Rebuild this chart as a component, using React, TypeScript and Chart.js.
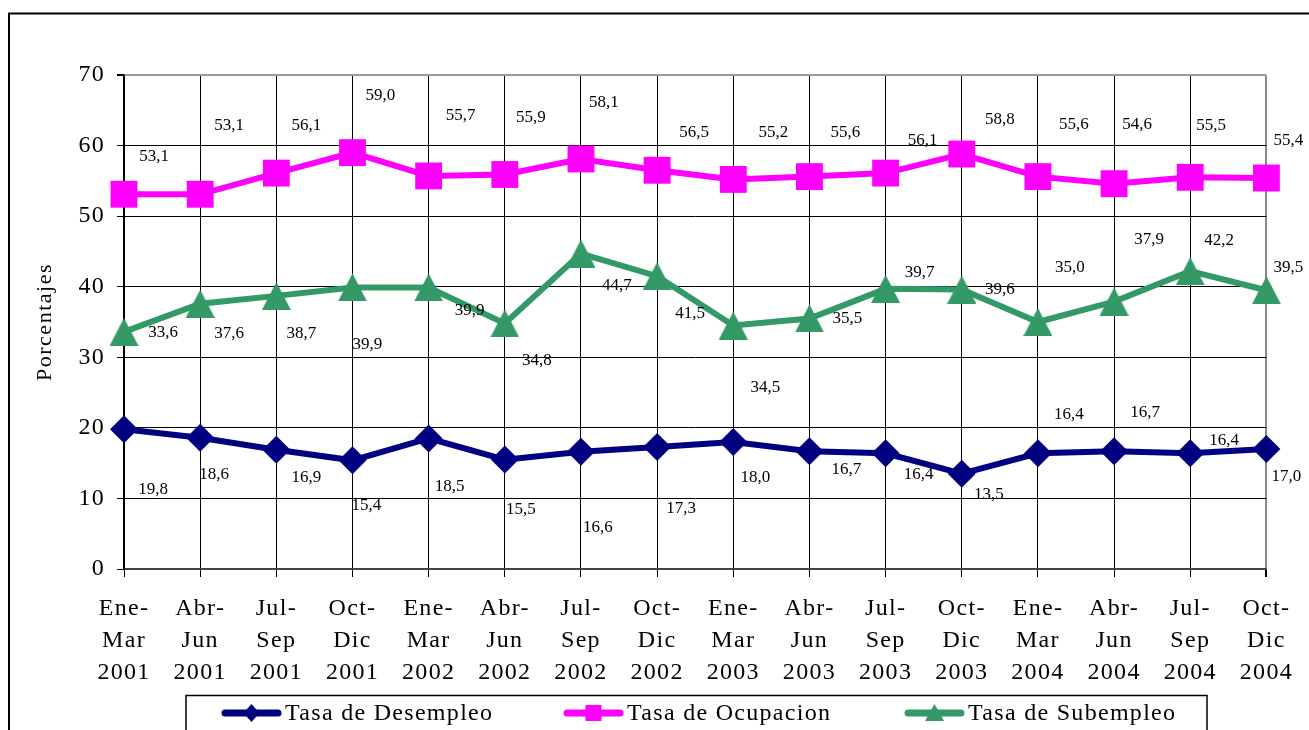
import React, { useEffect, useRef } from "react";
import { Chart, registerables } from "chart.js";

Chart.register(...registerables);

// ---------- data ----------
const categories: string[][] = [
  ["Ene-", "Mar", "2001"], ["Abr-", "Jun", "2001"], ["Jul-", "Sep", "2001"], ["Oct-", "Dic", "2001"],
  ["Ene-", "Mar", "2002"], ["Abr-", "Jun", "2002"], ["Jul-", "Sep", "2002"], ["Oct-", "Dic", "2002"],
  ["Ene-", "Mar", "2003"], ["Abr-", "Jun", "2003"], ["Jul-", "Sep", "2003"], ["Oct-", "Dic", "2003"],
  ["Ene-", "Mar", "2004"], ["Abr-", "Jun", "2004"], ["Jul-", "Sep", "2004"], ["Oct-", "Dic", "2004"],
];

const desempleo = [19.8, 18.6, 16.9, 15.4, 18.5, 15.5, 16.6, 17.3, 18.0, 16.7, 16.4, 13.5, 16.4, 16.7, 16.4, 17.0];
const ocupacion = [53.1, 53.1, 56.1, 59.0, 55.7, 55.9, 58.1, 56.5, 55.2, 55.6, 56.1, 58.8, 55.6, 54.6, 55.5, 55.4];
const subempleo = [33.6, 37.6, 38.7, 39.9, 39.9, 34.8, 44.7, 41.5, 34.5, 35.5, 39.7, 39.6, 35.0, 37.9, 42.2, 39.5];

const seriesNames = ["Tasa de Desempleo", "Tasa de Ocupacion", "Tasa de Subempleo"];
const yTicks = [0, 10, 20, 30, 40, 50, 60, 70];
const yTitle = "Porcentajes";

// ---------- layout / style (label offsets in px relative to each point) ----------
const offDesempleo = [[29, 60], [14, 37], [30, 28], [14, 45], [21, 48], [16, 50], [17, 76], [24, 62], [22, 36], [37, 18], [33, 21], [27, 21], [31, -39], [31, -39], [34, -13], [20, 28]];
const offOcupacion = [[30, -38], [29, -69], [30, -48], [28, -57], [32, -60], [26, -57], [23, -56], [37, -38], [40, -47], [36, -44], [37, -33], [38, -35], [36, -52], [23, -59], [21, -52], [22, -38]];
const offSubempleo = [[39, 1], [29, 30], [25, 38], [15, 57], [41, 23], [32, 37], [36, 32], [33, 37], [32, 62], [38, 0], [34, -16], [38, 0], [32, -54], [35, -62], [29, -31], [22, -23]];

const NAVY = "#000080";
const MAGENTA = "#FF00FF";
const GREEN = "#339966";
const SERIF = "'Liberation Serif', 'Times New Roman', serif";
const SPACING = "1.3px";
const W = 1309;
const H = 730;

function makeTriangle(w: number, h: number, color: string): HTMLCanvasElement {
  const c = document.createElement("canvas");
  c.width = w;
  c.height = h;
  const g = c.getContext("2d")!;
  g.fillStyle = color;
  g.beginPath();
  g.moveTo(w / 2, 0);
  g.lineTo(w, h);
  g.lineTo(0, h);
  g.closePath();
  g.fill();
  return c;
}

const fmt = (v: number) => v.toFixed(1).replace(".", ",");

const spacingPlugin = {
  id: "spacing",
  beforeInit(chart: any) { chart.ctx.letterSpacing = SPACING; },
  beforeLayout(chart: any) { chart.ctx.letterSpacing = SPACING; },
  beforeDraw(chart: any) {
    const ctx = chart.ctx;
    ctx.letterSpacing = SPACING;
    ctx.save();
    ctx.fillStyle = "#fff";
    ctx.fillRect(0, 0, W, H);
    ctx.strokeStyle = "#000";
    ctx.lineWidth = 2;
    ctx.strokeRect(9, 13.5, 1400, 900);
    ctx.restore();
  },
};

const decorPlugin = {
  id: "decor",
  afterDraw(chart: any) {
    const ctx: CanvasRenderingContext2D = chart.ctx;
    const offsets = [offDesempleo, offOcupacion, offSubempleo];
    // data labels
    ctx.save();
    (ctx as any).letterSpacing = "0px";
    ctx.font = `17px ${SERIF}`;
    ctx.fillStyle = "#000";
    ctx.textAlign = "center";
    ctx.textBaseline = "middle";
    chart.data.datasets.forEach((ds: any, i: number) => {
      const meta = chart.getDatasetMeta(i);
      meta.data.forEach((pt: any, j: number) => {
        const o = offsets[i][j];
        ctx.fillText(fmt(ds.data[j]), pt.x + o[0], pt.y + o[1]);
      });
    });
    ctx.restore();

    // y title
    ctx.save();
    (ctx as any).letterSpacing = "1.5px";
    ctx.font = `22px ${SERIF}`;
    ctx.fillStyle = "#000";
    ctx.textAlign = "center";
    ctx.textBaseline = "middle";
    ctx.translate(45, (chart.chartArea.top + chart.chartArea.bottom) / 2);
    ctx.rotate(-Math.PI / 2);
    ctx.fillText(yTitle, 0, 0);
    ctx.restore();

    // legend
    ctx.save();
    ctx.strokeStyle = "#000";
    ctx.lineWidth = 1.5;
    ctx.strokeRect(186, 695.5, 1021, 80);
    const ly = 713;
    const items = [
      { x1: 222, x2: 281, tx: 285, color: NAVY, kind: "diamond" },
      { x1: 564, x2: 623, tx: 627, color: MAGENTA, kind: "square" },
      { x1: 905, x2: 964, tx: 968, color: GREEN, kind: "triangle" },
    ];
    items.forEach((it, k) => {
      ctx.strokeStyle = it.color;
      ctx.fillStyle = it.color;
      ctx.lineWidth = 7;
      ctx.lineCap = "round";
      ctx.beginPath();
      ctx.moveTo(it.x1 + 3, ly);
      ctx.lineTo(it.x2 - 3, ly);
      ctx.stroke();
      const cx = (it.x1 + it.x2) / 2;
      ctx.beginPath();
      if (it.kind === "diamond") {
        ctx.moveTo(cx, ly - 9);
        ctx.lineTo(cx + 8, ly);
        ctx.lineTo(cx, ly + 9);
        ctx.lineTo(cx - 8, ly);
      } else if (it.kind === "square") {
        ctx.rect(cx - 8, ly - 8, 16, 16);
      } else {
        ctx.moveTo(cx, ly - 9);
        ctx.lineTo(cx + 9.5, ly + 8);
        ctx.lineTo(cx - 9.5, ly + 8);
      }
      ctx.closePath();
      ctx.fill();
      (ctx as any).letterSpacing = SPACING;
      ctx.font = `24px ${SERIF}`;
      ctx.fillStyle = "#000";
      ctx.textAlign = "left";
      ctx.textBaseline = "middle";
      ctx.fillText(seriesNames[k], it.tx, ly + 1);
    });
    ctx.restore();
  },
};

export default function App() {
  const ref = useRef<HTMLCanvasElement | null>(null);

  useEffect(() => {
    if (!ref.current) return;
    const tri = makeTriangle(29, 28, GREEN);
    const chart = new Chart(ref.current, {
      type: "line",
      data: {
        labels: categories as any,
        datasets: [
          {
            label: seriesNames[0],
            data: desempleo,
            borderColor: NAVY,
            backgroundColor: NAVY,
            borderWidth: 6,
            pointStyle: "rectRot",
            pointRadius: 14,
            pointBorderWidth: 0,
            pointBackgroundColor: NAVY,
            tension: 0,
            clip: false as any,
          },
          {
            label: seriesNames[1],
            data: ocupacion,
            borderColor: MAGENTA,
            backgroundColor: MAGENTA,
            borderWidth: 6,
            pointStyle: "rect",
            pointRadius: 19,
            pointBorderWidth: 0,
            pointBackgroundColor: MAGENTA,
            tension: 0,
            clip: false as any,
          },
          {
            label: seriesNames[2],
            data: subempleo,
            borderColor: GREEN,
            backgroundColor: GREEN,
            borderWidth: 6,
            pointStyle: tri as any,
            pointRadius: 15,
            pointBorderWidth: 0,
            pointBackgroundColor: GREEN,
            tension: 0,
            clip: false as any,
          },
        ],
      },
      options: {
        responsive: false,
        animation: false,
        events: [],
        layout: { padding: { left: 0, top: 75, right: 36, bottom: 0 } },
        plugins: {
          legend: { display: false },
          tooltip: { enabled: false },
          title: { display: false },
        },
        scales: {
          x: {
            type: "category",
            offset: false,
            afterFit: (s: any) => { s.height = 161; },
            grid: {
              color: (c: any) => (c.index === categories.length - 1 ? "#888" : "#000"),
              lineWidth: (c: any) => (c.index === categories.length - 1 ? 2 : 1),
              drawTicks: true,
              tickLength: 8,
              tickColor: "#000",
            },
            border: { color: "#444", width: 2 },
            ticks: {
              autoSkip: false,
              maxRotation: 0,
              minRotation: 0,
              padding: 16,
              color: "#000",
              font: { family: SERIF, size: 24, lineHeight: 32 / 24 },
            },
          },
          y: {
            min: yTicks[0],
            max: yTicks[yTicks.length - 1],
            afterFit: (s: any) => { s.width = 124; },
            afterBuildTicks: (s: any) => { s.ticks = yTicks.map((v) => ({ value: v })); },
            grid: {
              color: (c: any) => (c.tick && c.tick.value === 70 ? "#999" : "#000"),
              lineWidth: (c: any) => (c.tick && c.tick.value === 70 ? 2 : 1),
              drawTicks: true,
              tickLength: 7,
              tickColor: "#000",
            },
            border: { color: "#000", width: 1.5 },
            ticks: {
              padding: 12,
              color: "#000",
              font: { family: SERIF, size: 24 },
            },
          },
        },
      },
      plugins: [spacingPlugin, decorPlugin],
    });
    return () => chart.destroy();
  }, []);

  return (
    <div style={{ position: "fixed", left: 0, top: 0, width: W, height: H, background: "#fff" }}>
      <canvas ref={ref} width={W} height={H} style={{ display: "block", width: W, height: H }} />
    </div>
  );
}
